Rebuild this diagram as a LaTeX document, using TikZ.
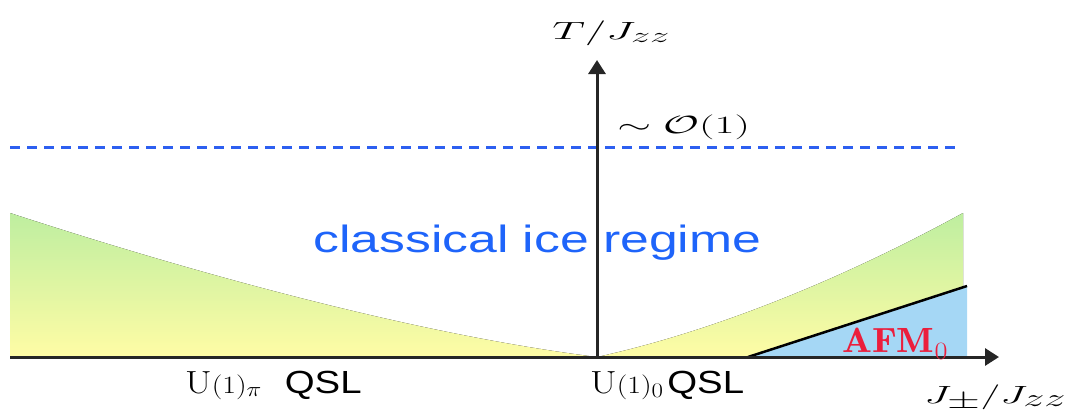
\documentclass[tikz,border=0pt]{standalone}
\usepackage{fontspec}
\setsansfont{Liberation Sans}
\usetikzlibrary{arrows.meta}
\definecolor{grn}{RGB}{190,238,160}
\definecolor{ylw}{RGB}{255,252,165}
\definecolor{afmblue}{RGB}{165,215,245}
\definecolor{dashblue}{RGB}{45,95,240}
\definecolor{txtblue}{RGB}{30,100,250}
\definecolor{afmred}{RGB}{235,30,60}
\begin{document}
\begin{tikzpicture}[x=1pt,y=-1pt,
  axis/.style={line width=3, draw=black!85, -{Triangle[width=17,length=14]}},
  lbl/.style={inner sep=0pt, anchor=base west}]
\useasboundingbox (0,0) rectangle (1074,416);
% regions
\fill[top color=grn, bottom color=ylw] (10,213) .. controls (200,275) and (420,335) .. (597,357) -- (10,357) -- cycle;
\fill[top color=grn, bottom color=ylw] (597,357) .. controls (720,330) and (850,275) .. (963,213) -- (963,357) -- cycle;
\coordinate (afmA) at (748,357);
\coordinate (afmB) at (967,286);
\fill[afmblue] (afmA) -- (afmB) -- (967,357) -- cycle;
\draw[line width=2.5] (afmA) -- (afmB);
% dashed line
\coordinate (dl) at (10,147);
\coordinate (dr) at (960,147);
\draw[dashblue, line width=3, dash pattern=on 10 off 7] (dl) -- (dr);
% axes
\coordinate (hs) at (10,357);
\coordinate (he) at (999,357);
\coordinate (vs) at (597,357);
\coordinate (ve) at (597,60);
\draw[axis] (hs) -- (he);
\draw[axis] (vs) -- (ve);
% labels
\node[lbl, xscale=1.85, font=\fontsize{32}{38}\selectfont] (tl) at (552,39) {$T/J_{zz}$};
\node[lbl, xscale=1.75, font=\fontsize{30}{36}\selectfont] (ol) at (617,133) {$\sim\mathcal{O}(1)$};
\node[lbl, xscale=1.36, text=txtblue, font=\sffamily\fontsize{38}{44}\selectfont] (cir) at (313,252) {classical ice regime};
\node[lbl, xscale=1.2, font=\fontsize{32}{38}\selectfont] (qpi) at (185,393) {$\mathrm{U}(1)_\pi$\hspace{19pt}\sffamily QSL};
\node[lbl, xscale=1.2, font=\fontsize{32}{38}\selectfont] (q0) at (590,393) {$\mathrm{U}(1)_0$\hspace{3pt}\sffamily QSL};
\node[lbl, xscale=1.13, text=afmred, font=\fontsize{35}{40}\selectfont] (afm) at (842,352) {$\mathbf{AFM}_0$};
\node[lbl, xscale=1.7, font=\fontsize{35}{40}\selectfont] (jl) at (924,403) {$J_\pm/J_{zz}$};
\end{tikzpicture}
\end{document}
